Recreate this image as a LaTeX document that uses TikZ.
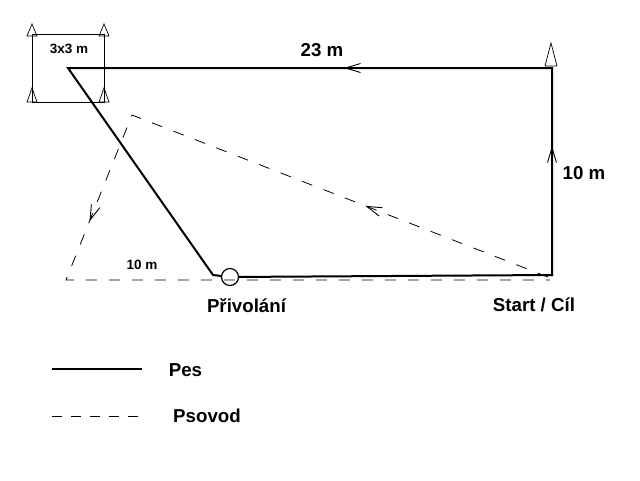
\documentclass[tikz,border=0pt]{standalone}
\usepackage{fontspec}
\setmainfont{Liberation Sans}
\usetikzlibrary{arrows.meta,decorations.markings}
\tikzset{
  pes/.style={
    line width=2pt,
    line cap=rect
  },
  psovod/.style={
    line width=0.8pt,
    dash pattern=on 11pt off 12pt
  },
  ohrada/.style={
    line width=1pt
  },
  bod/.style={
    circle,
    draw,
    line width=1.2pt,
    fill=white,
    minimum size=17pt,
    inner sep=0pt
  },
  popis/.style={
    font=\fontsize{18.7}{22}\selectfont\bfseries,
    anchor=base,
    inner sep=0pt
  },
  maly/.style={
    font=\fontsize{13.5}{16}\selectfont\bfseries,
    anchor=base,
    inner sep=0pt
  },
  hrot/.tip={Straight Barb[length=15pt,width=9pt,line width=0.9pt]},
  sipka/.style={
    postaction={decorate,decoration={markings,mark=at position #1 with {\arrow{hrot}}}}
  },
  pics/kuzel/.style 2 args={
    code={\draw[line width=0.7pt] (-#1,0) -- (0,-#2) -- (#1,0) -- cycle;}
  }
}
\begin{document}
\begin{tikzpicture}[x=1pt,y=-1pt]
\useasboundingbox (0,0) rectangle (640,480);
\coordinate (start) at (552,275);
\coordinate (rh) at (552,68);
\coordinate (lh) at (68,68);
\coordinate (ld) at (213,275);
\node[bod] (priv) at (230,277) {};
\coordinate (s1) at (548,277);
\coordinate (s2) at (132,115);
\coordinate (s3) at (66,280);
\coordinate (s4) at (550,280);
\draw[ohrada] (32,34) rectangle (104,102);
\pic at (32,36) {kuzel={5}{12}};
\pic at (104,36) {kuzel={5}{12}};
\pic at (32,102) {kuzel={5}{14}};
\pic at (104,102) {kuzel={5}{14}};
\pic at (551,66) {kuzel={6}{23}};
\draw[psovod,sipka=196pt,sipka=561pt] (s1) -- (s2) -- (s3) -- (s4);
\draw[pes,sipka=129pt,sipka=415pt] (start) -- (rh) -- (lh) -- (ld) -- (priv);
\draw[pes] (priv) -- (start);
\node[maly] (ctverec) at (69,53) {3x3 m};
\node[popis] (delka) at (322,56) {23 m};
\node[popis] (vyska) at (584,179) {10 m};
\node[maly] (odbocka) at (142,269) {10 m};
\node[popis] (privolani) at (246.5,312) {Přivolání};
\node[popis] (cil) at (534,311) {Start / Cíl};
\coordinate (la) at (52,369);
\coordinate (lb) at (142,369);
\coordinate (lc) at (52,416);
\coordinate (ld2) at (142,416);
\draw[pes,line cap=butt] (la) -- (lb);
\draw[psovod,dash pattern=on 10pt off 9pt] (lc) -- (ld2);
\node[popis] (pes) at (185.5,376) {Pes};
\node[popis] (psovod) at (207,422) {Psovod};
\end{tikzpicture}
\end{document}
